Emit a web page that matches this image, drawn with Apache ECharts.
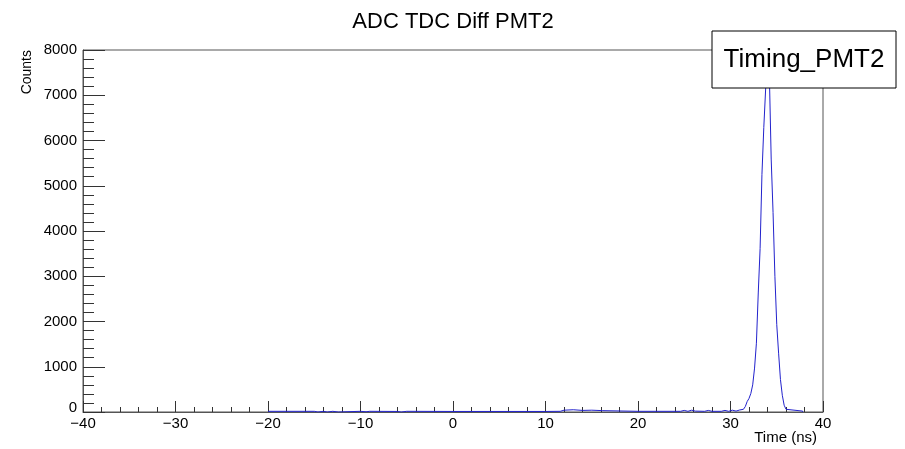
<!DOCTYPE html>
<html>
<head>
<meta charset="utf-8">
<script src="https://cdn.jsdelivr.net/npm/echarts@6/dist/echarts.min.js"></script>
<style>
html,body{margin:0;padding:0;background:#fff;}
#c{width:905px;height:449px;}
</style>
</head>
<body>
<div id="c"></div>
<script>
// Chart text
const chartTitle = 'ADC TDC Diff PMT2';
const xAxisTitle = 'Time (ns)';
const yAxisTitle = 'Counts';
const legendLabel = 'Timing_PMT2';

// Axis ranges / tick labels
const xTicks = [-40, -30, -20, -10, 0, 10, 20, 30, 40];
const yTicks = [0, 1000, 2000, 3000, 4000, 5000, 6000, 7000, 8000];

// Histogram bins: edges (ns); bin i spans binEdges[i]..binEdges[i+1] with binCounts[i]
const binEdges = [
  -20, -15, -14.6, -14, -13.6, -13, -12.4, -10, -9.4, -9, -6, -5.6, -5, 0, 10,
  11.6, 12, 13, 14, 15, 16.2, 20, 24.6, 25, 25.4, 25.8, 26.2, 27.2, 27.6, 28,
  29, 29.4, 29.8, 30.2, 30.6, 31, 31.2, 31.4,
  31.6, 31.8, 32.0, 32.2, 32.4, 32.6, 32.8, 33.0, 33.2, 33.4, 33.6, 33.8,
  34.0, 34.2, 34.4, 34.6, 34.8, 35.0, 35.2, 35.4, 35.6, 35.8, 36.0, 36.2, 37.8
];
const binCounts = [
  15, 0, 15, 0, 15, 0, 15, 5, 15, 12, 0, 15, 12, 12, 15,
  40, 50, 35, 40, 30, 15, 15, 35, 15, 40, 20, 15, 35, 15, 15,
  35, 15, 40, 20, 45, 40, 60, 70,
  120, 230, 300, 410, 600, 970, 1520, 2630, 3610, 5250, 6290, 7140,
  7620, 7450, 5590, 4410, 3000, 1930, 1300, 720, 370, 150, 60, 20
];

// Histogram outline: horizontal top of each bin, vertical joins between bins
const histData = [];
for (let i = 0; i < binCounts.length; i++) {
  histData.push([binEdges[i], binCounts[i]]);
  histData.push([binEdges[i + 1], binCounts[i]]);
}
histData.push([binEdges[binEdges.length - 1], 0]);

const chart = echarts.init(document.getElementById('c'), null, {renderer: 'canvas'});
const FONT = 'Liberation Sans, Arial, Helvetica, sans-serif';
const AX = '#555';

chart.setOption({
  animation: false,
  backgroundColor: '#fff',
  title: {
    text: chartTitle,
    left: 448, top: 6, textAlign: 'center',
    textStyle: {fontFamily: FONT, fontSize: 22, fontWeight: 'normal', color: '#000'}
  },
  grid: {left: 83, right: 82, top: 50, bottom: 37, show: true, borderColor: AX, borderWidth: 1},
  xAxis: {
    type: 'value', min: xTicks[0], max: xTicks[xTicks.length - 1], interval: 10,
    axisLine: {show: true, onZero: false, lineStyle: {color: AX, width: 1}},
    axisTick: {show: true, inside: true, length: 11, lineStyle: {color: '#333'}},
    minorTick: {show: true, splitNumber: 5, length: 5, lineStyle: {color: '#333'}},
    splitLine: {show: false},
    axisLabel: {
      fontFamily: FONT, fontSize: 15, color: '#000', margin: 4,
      formatter: v => (v < 0 ? '\u2212' + Math.abs(v) : String(v))
    }
  },
  yAxis: {
    type: 'value', min: yTicks[0], max: yTicks[yTicks.length - 1], interval: 1000,
    axisLine: {show: true, onZero: false, lineStyle: {color: AX, width: 1}},
    axisTick: {show: true, inside: true, length: 22, lineStyle: {color: '#333'}},
    minorTick: {show: true, splitNumber: 5, length: 11, lineStyle: {color: '#333'}},
    splitLine: {show: false},
    axisLabel: {
      fontFamily: FONT, fontSize: 15, color: '#000', margin: 6,
      formatter: v => (v === 0 ? '{z|0}' : String(v)),
      rich: {z: {fontFamily: FONT, fontSize: 15, color: '#000', padding: [0, 0, 9, 0]}}
    }
  },
  series: [{
    type: 'line',
    data: histData,
    symbol: 'none',
    clip: true,
    lineStyle: {color: '#2222cc', width: 1},
    z: 3
  }],
  graphic: [
    {
      type: 'text', x: 27, y: 50, rotation: Math.PI / 2, z: 50,
      style: {text: yAxisTitle, fontFamily: FONT, fontSize: 14, fill: '#000', align: 'right', verticalAlign: 'middle'}
    },
    {
      type: 'text', x: 817, y: 438, z: 50,
      style: {text: xAxisTitle, fontFamily: FONT, fontSize: 15, fill: '#000', align: 'right', verticalAlign: 'middle'}
    },
    {
      type: 'rect', x: 712, y: 31, z: 100,
      shape: {x: 0, y: 0, width: 184, height: 57},
      style: {fill: '#fff', stroke: '#000', lineWidth: 1}
    },
    {
      type: 'text', x: 804, y: 60, z: 101,
      style: {text: legendLabel, fontFamily: FONT, fontSize: 26, fill: '#000', align: 'center', verticalAlign: 'middle'}
    }
  ]
});
</script>
</body>
</html>
